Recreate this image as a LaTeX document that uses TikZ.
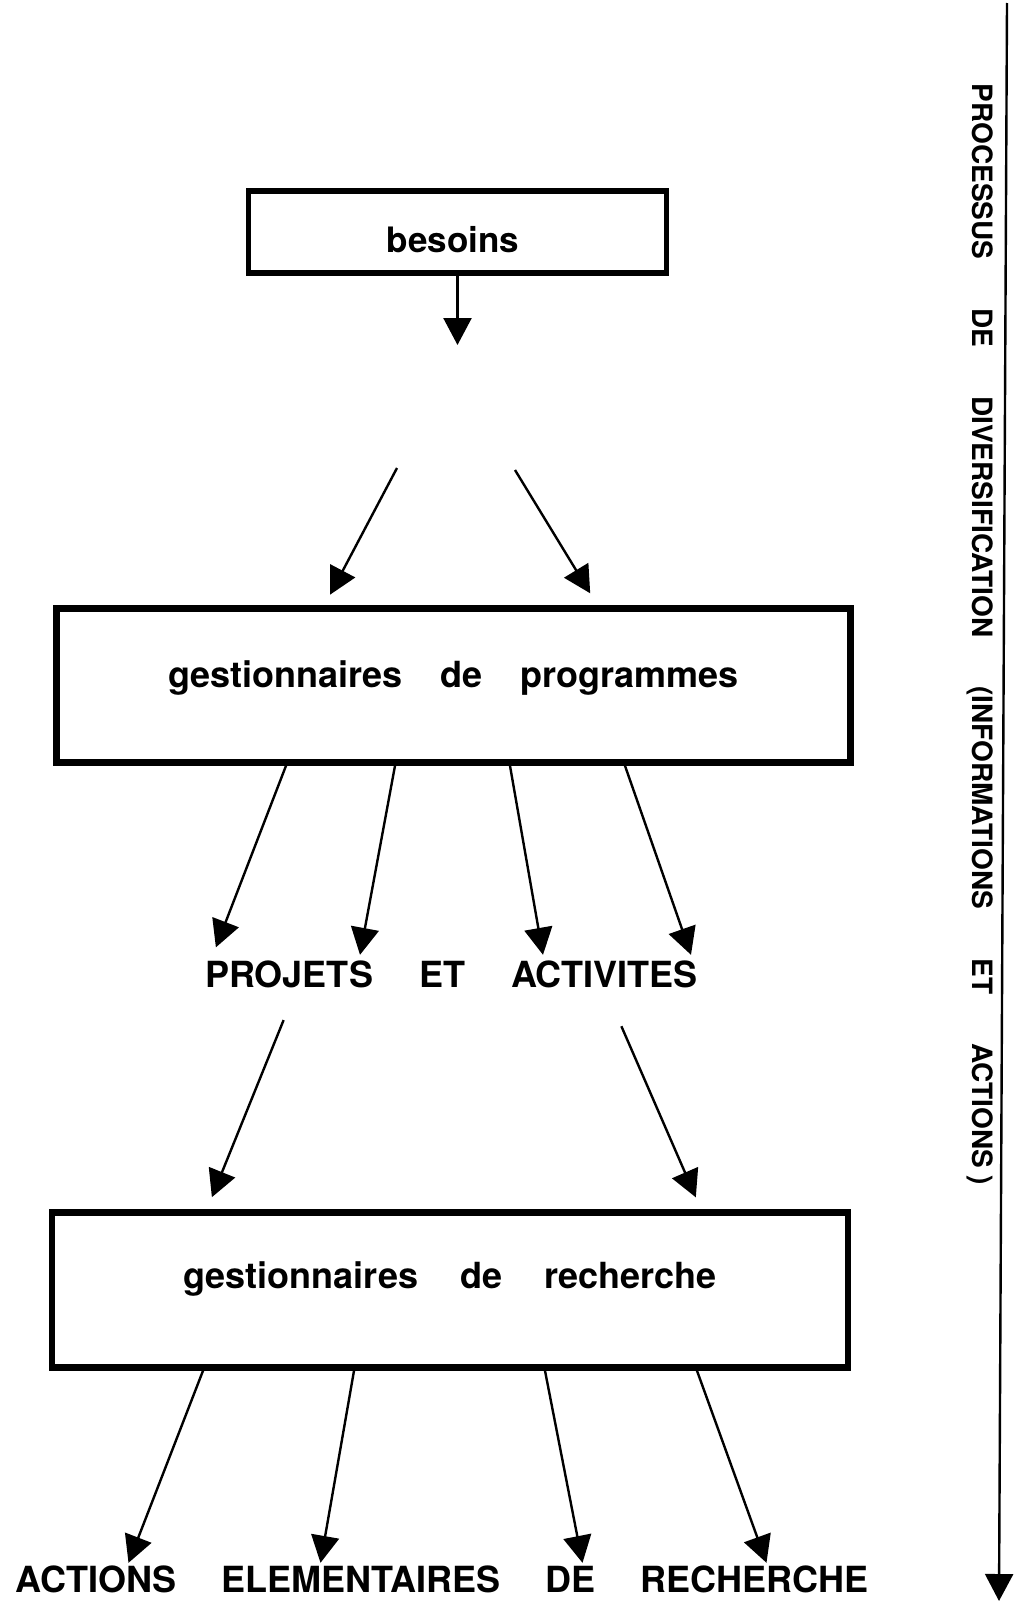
\documentclass[tikz,border=0pt]{standalone}
\usepackage{fontspec}
\setmainfont{TeX Gyre Heros}
\usetikzlibrary{arrows.meta}

\tikzset{
  arr/.style={-{Triangle[length=27pt,width=28pt]}, line width=2.4pt},
  box/.style={draw, line width=6.5pt, inner sep=0pt, font=\bfseries\fontsize{36}{40}\selectfont},
  caps/.style={inner sep=0pt, font=\bfseries\fontsize{36}{40}\selectfont, text height=26pt, text depth=0pt}
}

\begin{document}
\begin{tikzpicture}[x=1pt, y=-1pt]
    \useasboundingbox (0,0) rectangle (1013,1601);

    % --- boxes ---
    \node[box, line width=5.5pt, minimum width=418pt, minimum height=82pt,
          font=\bfseries\fontsize{35}{40}\selectfont, text height=41pt, text depth=0pt]
          (besoins) at (457.5,232) {besoins\hspace*{9pt}};
    \node[box, minimum width=794pt, minimum height=154pt, text height=20pt, text depth=17pt]
          (progr) at (453.5,685.5) {gestionnaires\hspace{38pt}de\hspace{38pt}programmes};
    \node[box, minimum width=796pt, minimum height=155pt, text height=18pt, text depth=22pt]
          (rech) at (450,1290) {gestionnaires\hspace{42pt}de\hspace{42pt}recherche};

    % --- texts between the boxes ---
    \node[caps, inner ysep=6pt] (projets) at (451.5,974) {PROJETS\hspace{46pt}ET\hspace{46pt}ACTIVITES};
    \node[caps, text height=26pt, inner ysep=3pt]
          (actions) at (442,1579) {ACTIONS\hspace{45pt}ELEMENTAIRES\hspace{45pt}DE\hspace{45pt}RECHERCHE};

    % --- side text and arrow ---
    \node[caps, rotate=-90, font=\bfseries\fontsize{28}{32}\selectfont, text height=20pt]
          (side) at (982,634.5) {PROCESSUS\hspace{49pt}DE\hspace{49pt}DIVERSIFICATION\hspace{49pt}(INFORMATIONS\hspace{49pt}ET\hspace{49pt}ACTIONS )};
    \coordinate (vtop) at (1007,3);
    \coordinate (vbot) at (999,1601);
    \draw[arr] (vtop) -- (vbot);

    % --- besoins -> gestionnaires de programmes ---
    \coordinate (b0) at (457.5,345);
    \coordinate (s1) at (397,468);
    \coordinate (s2) at (515,470);
    \draw[arr] (besoins) -- (b0);
    \draw[arr, shorten >=12pt] (s1) -- ([xshift=-129pt]progr.north);
    \draw[arr, shorten >=14pt] (s2) -- ([xshift=144pt]progr.north);

    % --- gestionnaires de programmes -> projets et activites ---
    \draw[arr, shorten >=8pt] ([xshift=-167.5pt]progr.south) -- ([xshift=-238.5pt]projets.north);
    \draw[arr] ([xshift=-58.5pt]progr.south) -- ([xshift=-91.5pt]projets.north);
    \draw[arr] ([xshift=56.5pt]progr.south) -- ([xshift=91.5pt]projets.north);
    \draw[arr] ([xshift=171.5pt]progr.south) -- ([xshift=239.5pt]projets.north);

    % --- projets et activites -> gestionnaires de recherche ---
    \draw[arr, shorten <=29pt, shorten >=13pt] ([xshift=-157pt]projets.south) -- ([xshift=-243pt]rech.north);
    \draw[arr, shorten <=36pt, shorten >=13pt] ([xshift=155.5pt]projets.south) -- ([xshift=251pt]rech.north);

    % --- gestionnaires de recherche -> actions elementaires ---
    \draw[arr] ([xshift=-247pt]rech.south) -- ([xshift=-313.5pt]actions.north);
    \draw[arr] ([xshift=-96pt]rech.south) -- ([xshift=-121.5pt]actions.north);
    \draw[arr] ([xshift=95pt]rech.south) -- ([xshift=140.5pt]actions.north);
    \draw[arr] ([xshift=247pt]rech.south) -- ([xshift=324.5pt]actions.north);
\end{tikzpicture}
\end{document}
